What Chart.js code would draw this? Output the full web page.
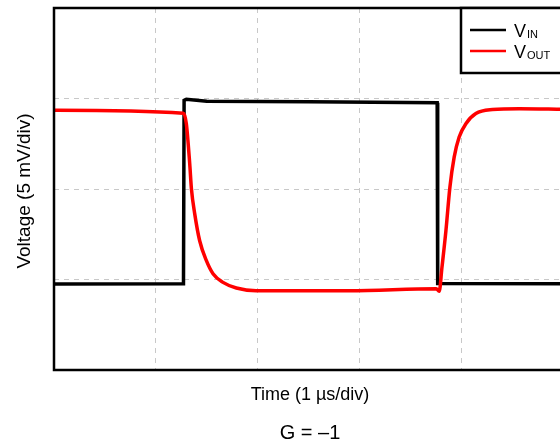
<!DOCTYPE html>
<html>
<head>
<meta charset="utf-8">
<script src="https://cdn.jsdelivr.net/npm/chart.js@4"></script>
<style>
  html, body { margin: 0; padding: 0; background: #fff; overflow: hidden; }
  #wrap { width: 566px; height: 444px; }
</style>
</head>
<body>
<div id="wrap"><canvas id="scope" width="566" height="444"></canvas></div>
<script>
// time in µs (1 µs/div), voltage in mV (5 mV/div)
const vinTime  = [0, 1.272, 1.278, 1.30, 1.50, 2.50, 3.764, 3.769, 5];
const vinVolts = [4.75, 4.76, 14.90, 14.96, 14.85, 14.82, 14.76, 4.78, 4.76];

const voutTime  = [0, 1.27, 1.30, 1.333, 1.35, 1.382, 1.431, 1.497, 1.562, 1.66, 1.791, 1.987, 2.9, 3.755,
                   3.784, 3.811, 3.85, 3.889, 3.931, 3.98, 4.046, 4.144, 4.307, 4.569, 5];
const voutVolts = [14.35, 14.19, 13.61, 11.41, 10.01, 8.64, 7.14, 6.04, 5.32, 4.84, 4.53, 4.38, 4.38, 4.49,
                   4.35, 5.67, 7.70, 10.10, 11.76, 12.87, 13.61, 14.17, 14.39, 14.44, 14.40];

const xDivs = [0, 5, 1];   // min, max, step (µs)
const yDivs = [0, 20, 5];  // min, max, step (mV)

const FONT = '"Liberation Sans", Arial, sans-serif';

const pts = (xs, ys) => xs.map((x, i) => ({ x: x, y: ys[i] }));

// ── frame, legend and captions ──
const scopeDecor = {
  id: 'scopeDecor',
  afterDraw(chart) {
    const ctx = chart.ctx;
    const a = chart.chartArea;

    // plot frame
    ctx.save();
    ctx.strokeStyle = '#000';
    ctx.lineWidth = 2.5;
    ctx.strokeRect(a.left, a.top, a.right - a.left, a.bottom - a.top);

    // legend box in the top-right corner
    const lx = 461, ly = a.top, lh = 65;
    ctx.fillStyle = '#fff';
    ctx.fillRect(lx, ly, a.right - lx, lh);
    ctx.lineWidth = 2.5;
    ctx.strokeRect(lx, ly, a.right - lx, lh);

    const rows = [
      { color: '#000', sub: 'IN',  y: 30 },
      { color: '#ff0000', sub: 'OUT', y: 51 },
    ];
    rows.forEach(r => {
      ctx.strokeStyle = r.color;
      ctx.lineWidth = 2.5;
      ctx.beginPath();
      ctx.moveTo(470, r.y);
      ctx.lineTo(506, r.y);
      ctx.stroke();

      ctx.fillStyle = '#000';
      ctx.textBaseline = 'alphabetic';
      ctx.textAlign = 'left';
      ctx.font = '18px ' + FONT;
      ctx.fillText('V', 514, r.y + 7);
      const vw = ctx.measureText('V').width;
      ctx.font = '11px ' + FONT;
      ctx.fillText(r.sub, 514 + vw + 1, r.y + 8);
    });

    // axis captions
    ctx.fillStyle = '#000';
    ctx.textAlign = 'center';
    ctx.textBaseline = 'alphabetic';
    ctx.font = '18px ' + FONT;
    ctx.fillText('Time (1 \u00b5s/div)', 310, 400);
    ctx.font = '20px ' + FONT;
    ctx.fillText('G = \u20131', 310, 439);

    ctx.translate(25, 191);
    ctx.rotate(-Math.PI / 2);
    ctx.textBaseline = 'middle';
    ctx.font = '19px ' + FONT;
    ctx.fillText('Voltage (5 mV/div)', 0, 0);
    ctx.restore();
  }
};

const gridColor = (c) => {
  const v = c.tick ? c.tick.value : null;
  return (v === c.scale.min || v === c.scale.max) ? 'rgba(0,0,0,0)' : '#c8c8c8';
};

new Chart(document.getElementById('scope'), {
  type: 'line',
  data: {
    datasets: [
      {
        label: 'VOUT',
        data: pts(voutTime, voutVolts),
        borderColor: '#ff0000',
        borderWidth: 3.5,
        pointRadius: 0,
        cubicInterpolationMode: 'monotone',
        fill: false,
        order: 1,
      },
      {
        label: 'VIN',
        data: pts(vinTime, vinVolts),
        borderColor: '#000',
        borderWidth: 3.5,
        pointRadius: 0,
        tension: 0,
        fill: false,
        order: 2,
      },
    ],
  },
  options: {
    responsive: false,
    animation: false,
    layout: { padding: { left: 54, top: 8, right: 3, bottom: 74 } },
    plugins: { legend: { display: false }, tooltip: { enabled: false } },
    scales: {
      x: {
        type: 'linear',
        min: xDivs[0], max: xDivs[1],
        ticks: { display: false, stepSize: xDivs[2] },
        grid: { color: gridColor, lineWidth: 1, drawTicks: false },
        border: { display: false, dash: [5, 5] },
      },
      y: {
        type: 'linear',
        min: yDivs[0], max: yDivs[1],
        ticks: { display: false, stepSize: yDivs[2] },
        grid: { color: gridColor, lineWidth: 1, drawTicks: false },
        border: { display: false, dash: [5, 5] },
      },
    },
  },
  plugins: [scopeDecor],
});
</script>
</body>
</html>
